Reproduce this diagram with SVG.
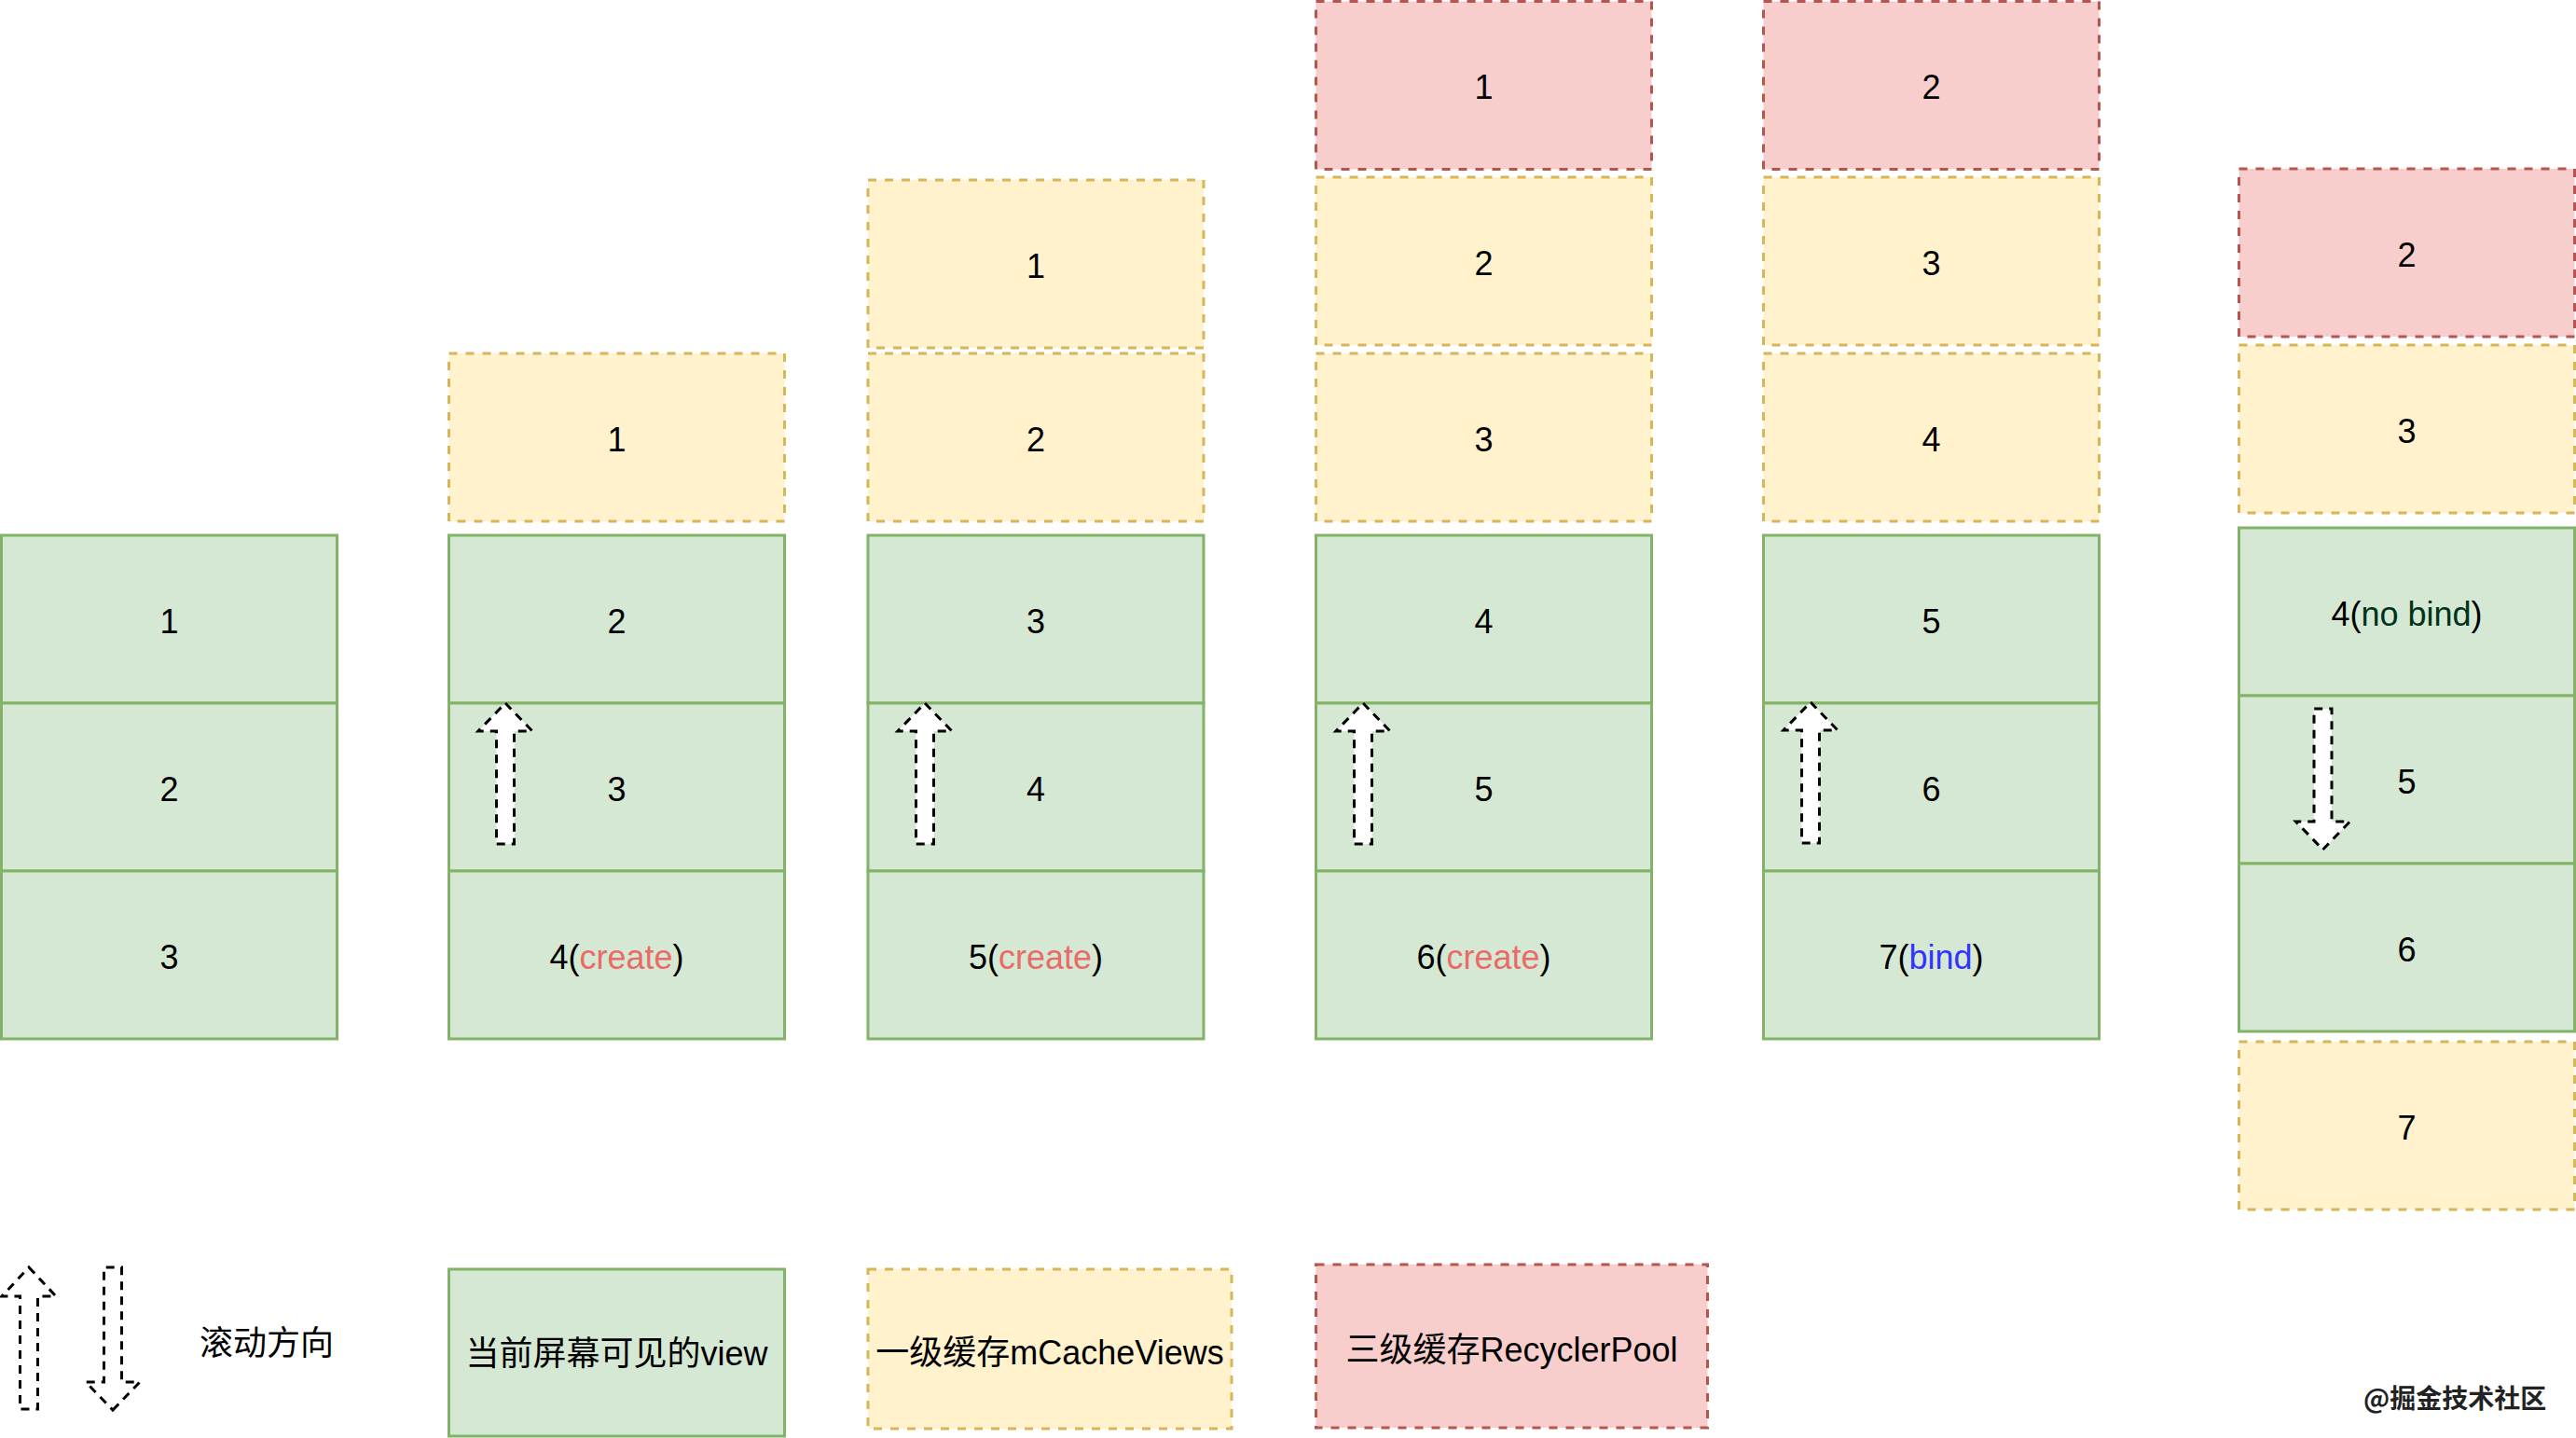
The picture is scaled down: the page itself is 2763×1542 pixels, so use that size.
<svg xmlns="http://www.w3.org/2000/svg" width="2763" height="1542" viewBox="0 0 2763 1542">
<style>
  .g { fill:#d5e8d4; stroke:#82b366; stroke-width:3; }
  .y { fill:#fff2cc; stroke:#d6b656; stroke-width:3; stroke-dasharray:9 9; }
  .r { fill:#f8cecc; stroke:#b85450; stroke-width:3; stroke-dasharray:9 9; }
  .t { font-family:"Liberation Sans","Noto Sans CJK SC",sans-serif; font-size:36px; fill:#000; text-anchor:middle; }
  .arr { fill:#fff; stroke:#000; stroke-width:3; stroke-dasharray:9 7; stroke-linejoin:miter; }
  .cr { fill:#ea6b66; }
  .bl { fill:#3333ff; }
  .nb { fill:#003319; }
</style>
<rect width="2763" height="1542" fill="#fff"/>

<!-- Column 1 -->
<g id="c1-1"><rect class="g" x="1.5" y="574" width="360" height="180"/><text class="t" x="181.5" y="679">1</text></g>
<g id="c1-2"><rect class="g" x="1.5" y="754" width="360" height="180"/><text class="t" x="181.5" y="859">2</text></g>
<g id="c1-3"><rect class="g" x="1.5" y="934" width="360" height="180"/><text class="t" x="181.5" y="1039">3</text></g>

<!-- Column 2 -->
<g id="c2-1"><rect class="y" x="481.5" y="379" width="360" height="180"/><text class="t" x="661.5" y="484">1</text></g>
<g id="c2-2"><rect class="g" x="481.5" y="574" width="360" height="180"/><text class="t" x="661.5" y="679">2</text></g>
<g id="c2-3"><rect class="g" x="481.5" y="754" width="360" height="180"/><text class="t" x="661.5" y="859">3</text></g>
<g id="c2-4"><rect class="g" x="481.5" y="934" width="360" height="180"/><text class="t" x="661.5" y="1039">4(<tspan class="cr">create</tspan>)</text></g>

<!-- Column 3 -->
<g id="c3-1"><rect class="y" x="931" y="193" width="360" height="180"/><text class="t" x="1111" y="298">1</text></g>
<g id="c3-2"><rect class="y" x="931" y="379" width="360" height="180"/><text class="t" x="1111" y="484">2</text></g>
<g id="c3-3"><rect class="g" x="931" y="574" width="360" height="180"/><text class="t" x="1111" y="679">3</text></g>
<g id="c3-4"><rect class="g" x="931" y="754" width="360" height="180"/><text class="t" x="1111" y="859">4</text></g>
<g id="c3-5"><rect class="g" x="931" y="934" width="360" height="180"/><text class="t" x="1111" y="1039">5(<tspan class="cr">create</tspan>)</text></g>

<!-- Column 4 -->
<g id="c4-1"><rect class="r" x="1411.5" y="1.5" width="360" height="180"/><text class="t" x="1591.5" y="106">1</text></g>
<g id="c4-2"><rect class="y" x="1411.5" y="190" width="360" height="180"/><text class="t" x="1591.5" y="295">2</text></g>
<g id="c4-3"><rect class="y" x="1411.5" y="379" width="360" height="180"/><text class="t" x="1591.5" y="484">3</text></g>
<g id="c4-4"><rect class="g" x="1411.5" y="574" width="360" height="180"/><text class="t" x="1591.5" y="679">4</text></g>
<g id="c4-5"><rect class="g" x="1411.5" y="754" width="360" height="180"/><text class="t" x="1591.5" y="859">5</text></g>
<g id="c4-6"><rect class="g" x="1411.5" y="934" width="360" height="180"/><text class="t" x="1591.5" y="1039">6(<tspan class="cr">create</tspan>)</text></g>

<!-- Column 5 -->
<g id="c5-2"><rect class="r" x="1891.5" y="1.5" width="360" height="180"/><text class="t" x="2071.5" y="106">2</text></g>
<g id="c5-3"><rect class="y" x="1891.5" y="190" width="360" height="180"/><text class="t" x="2071.5" y="295">3</text></g>
<g id="c5-4"><rect class="y" x="1891.5" y="379" width="360" height="180"/><text class="t" x="2071.5" y="484">4</text></g>
<g id="c5-5"><rect class="g" x="1891.5" y="574" width="360" height="180"/><text class="t" x="2071.5" y="679">5</text></g>
<g id="c5-6"><rect class="g" x="1891.5" y="754" width="360" height="180"/><text class="t" x="2071.5" y="859">6</text></g>
<g id="c5-7"><rect class="g" x="1891.5" y="934" width="360" height="180"/><text class="t" x="2071.5" y="1039">7(<tspan class="bl">bind</tspan>)</text></g>

<!-- Column 6 -->
<g id="c6-2"><rect class="r" x="2401.5" y="181" width="360" height="180"/><text class="t" x="2581.5" y="286">2</text></g>
<g id="c6-3"><rect class="y" x="2401.5" y="370" width="360" height="180"/><text class="t" x="2581.5" y="475">3</text></g>
<g id="c6-4"><rect class="g" x="2401.5" y="566" width="360" height="180"/><text class="t" x="2581.5" y="671">4(<tspan class="nb">no bind</tspan>)</text></g>
<g id="c6-5"><rect class="g" x="2401.5" y="746" width="360" height="180"/><text class="t" x="2581.5" y="851">5</text></g>
<g id="c6-6"><rect class="g" x="2401.5" y="926" width="360" height="180"/><text class="t" x="2581.5" y="1031">6</text></g>
<g id="c6-7"><rect class="y" x="2401.5" y="1117" width="360" height="180"/><text class="t" x="2581.5" y="1222">7</text></g>

<!-- Scroll direction arrows -->
<g id="scroll-arrows">
  <path class="arr" d="M542,754 L571,784 L551.5,784 L551.5,905 L532.5,905 L532.5,784 L513,784 Z"/>
  <path class="arr" d="M992,754 L1021,784 L1001.5,784 L1001.5,905 L982.5,905 L982.5,784 L963,784 Z"/>
  <path class="arr" d="M1462,754 L1491,784 L1471.5,784 L1471.5,905 L1452.5,905 L1452.5,784 L1433,784 Z"/>
  <path class="arr" d="M1942,753 L1971,783 L1951.5,783 L1951.5,904 L1932.5,904 L1932.5,783 L1913,783 Z"/>
  <path class="arr" d="M2491.5,911 L2520.5,881 L2501,881 L2501,760 L2482,760 L2482,881 L2462.5,881 Z"/>
  <path class="arr" d="M31,1359 L60,1390 L40.5,1390 L40.5,1511 L21.5,1511 L21.5,1390 L2,1390 Z"/>
  <path class="arr" d="M121,1512 L150,1482 L130.5,1482 L130.5,1359 L111.5,1359 L111.5,1482 L92,1482 Z"/>
</g>

<!-- Legend -->
<g id="legend-scroll"><text class="t" x="214" y="1453" style="text-anchor:start">滚动方向</text></g>
<g id="legend-visible"><rect class="g" x="481.5" y="1361" width="360" height="179"/><text class="t" x="661.5" y="1464">当前屏幕可见的view</text></g>
<g id="legend-cache"><rect class="y" x="931" y="1361" width="390" height="171"/><text class="t" x="1126" y="1463">一级缓存mCacheViews</text></g>
<g id="legend-pool"><rect class="r" x="1411.5" y="1356" width="420" height="175"/><text class="t" x="1621.5" y="1460">三级缓存RecyclerPool</text></g>

<g id="watermark"><text x="2535" y="1510" style="font-family:'Noto Sans CJK SC',sans-serif;font-size:28px;fill:#222;font-weight:bold">@掘金技术社区</text></g>
</svg>
